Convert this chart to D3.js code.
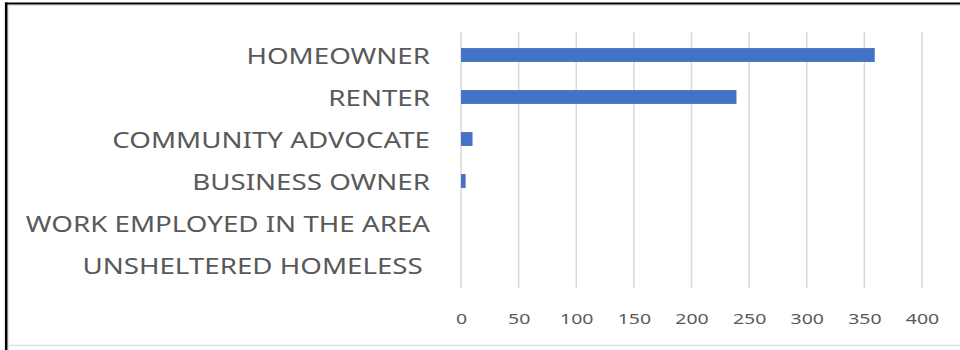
<!DOCTYPE html>
<html>
<head>
<meta charset="utf-8">
<script src="https://cdn.jsdelivr.net/npm/d3@7"></script>
<style>
  html, body { margin: 0; padding: 0; background: #fff; }
  svg { display: block; }
</style>
</head>
<body>
<svg id="chart" width="960" height="350"></svg>
<script>
// Respondent roles and their counts
const categories = [
  "HOMEOWNER",
  "RENTER",
  "COMMUNITY ADVOCATE",
  "BUSINESS OWNER",
  "WORK EMPLOYED IN THE AREA",
  "UNSHELTERED HOMELESS "
];
const counts = [359, 239, 10, 4, 0, 0];
const tickValues = [0, 50, 100, 150, 200, 250, 300, 350, 400];

const svg = d3.select("#chart");
const W = 960, H = 350;

// Frame around the chart
svg.append("rect").attr("x", 0).attr("y", 0).attr("width", W).attr("height", H).attr("fill", "#fff");
svg.append("line").attr("x1", 8.5).attr("x2", W).attr("y1", 5.5).attr("y2", 5.5)
  .attr("stroke", "#e6e6e6").attr("stroke-width", 1);
svg.append("line").attr("x1", 8.5).attr("x2", 8.5).attr("y1", 5).attr("y2", H)
  .attr("stroke", "#e6e6e6").attr("stroke-width", 1);
svg.append("line").attr("x1", 8).attr("x2", W).attr("y1", 345.5).attr("y2", 345.5)
  .attr("stroke", "#e0e0e0").attr("stroke-width", 1.5);
svg.append("line").attr("x1", 5).attr("x2", W).attr("y1", 3.5).attr("y2", 3.5)
  .attr("stroke", "#000").attr("stroke-width", 2.2);
svg.append("line").attr("x1", 6.2).attr("x2", 6.2).attr("y1", 2.5).attr("y2", H)
  .attr("stroke", "#000").attr("stroke-width", 2.6);

const plot = { left: 461, right: 922, top: 34, bottom: 286 };

const x = d3.scaleLinear().domain([0, 400]).range([plot.left, plot.right]);
const y = d3.scaleBand().domain(categories).range([plot.top, plot.bottom])
  .paddingInner(0.67).paddingOuter(0.335);

const textColor = "#595959";
const font = "'Noto Sans', 'Open Sans', sans-serif";

// Vertical gridlines
svg.append("g")
  .selectAll("line")
  .data(tickValues)
  .join("line")
  .attr("x1", d => x(d)).attr("x2", d => x(d))
  .attr("y1", 32).attr("y2", 288)
  .attr("stroke", "#d9d9d9").attr("stroke-width", 1.5);

// Bars
svg.append("g")
  .selectAll("rect")
  .data(categories.map((c, i) => ({ c, v: counts[i] })))
  .join("rect")
  .attr("x", x(0))
  .attr("y", d => y(d.c))
  .attr("width", d => x(d.v) - x(0))
  .attr("height", y.bandwidth())
  .attr("fill", "#4472c4");

// Bottom axis labels
const xAxis = svg.append("g")
  .attr("transform", `translate(0,${plot.bottom})`)
  .call(d3.axisBottom(x).tickValues(tickValues).tickSize(0).tickPadding(0));
xAxis.select(".domain").remove();
xAxis.selectAll("text")
  .attr("y", 0).attr("dy", 0)
  .attr("transform", "translate(0,38) scale(1.3,1)")
  .attr("fill", textColor)
  .style("font-family", font)
  .style("font-size", "15px");

// Category labels on the left
const yAxis = svg.append("g")
  .attr("transform", `translate(${plot.left},0)`)
  .call(d3.axisLeft(y).tickSize(0).tickPadding(0));
yAxis.select(".domain").remove();
const labelScale = 1.26;
yAxis.selectAll("text")
  .attr("x", 0).attr("dy", "0.36em")
  .attr("transform", `translate(-31,1) scale(${labelScale},1)`)
  .attr("fill", textColor)
  .style("white-space", "pre")
  .style("font-family", font)
  .style("font-size", "22px");
</script>
</body>
</html>
